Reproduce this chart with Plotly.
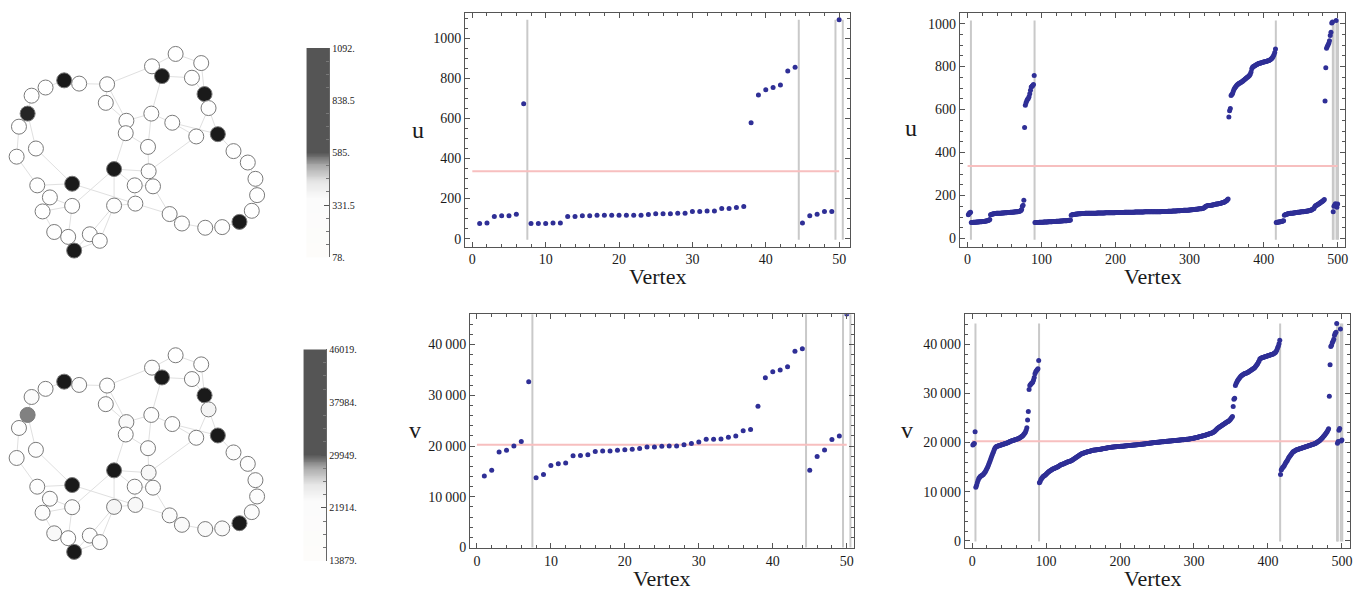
import numpy as np
import plotly.graph_objects as go

W, H = 1367, 599

# ---------------- data ----------------
vertex50 = list(range(1, 51))
u50 = [75, 78, 111, 114, 114, 122, 673, 75, 75, 75, 78, 78, 111, 111, 114, 114, 117, 117, 117, 117,
       117, 117, 117, 120, 124, 124, 124, 127, 127, 135, 135, 138, 138, 151, 151, 156, 161, 578, 717, 743,
       754, 767, 837, 855, 78, 114, 122, 135, 135, 1092]
v50 = [14100, 15240, 18840, 19160, 20000, 20900, 32670, 13760, 14400, 16140, 16530, 16660, 18070, 18130, 18260,
       18900, 19040, 19040, 19160, 19290, 19360, 19490, 19810, 19810, 19940, 20000, 20000, 20260, 20510, 20770,
       21350, 21350, 21410, 21740, 21990, 23020, 23280, 27850, 33440, 34660, 34980, 35630, 38710, 39160, 15240,
       17940, 19230, 21290, 21990, 46019]
sep50 = [7.5, 44.5, 49.5, 50.5]
mean_u = 337
mean_v = 20270

vertex500 = list(range(1, 501))
u500 = [
    110, 116, 120, 122,
    75, 75, 75, 76, 76, 76, 76, 77, 77, 77,
    77, 78, 78, 78, 78, 79, 79, 79, 80, 80,
    81, 82, 83, 84, 86, 88,
    110, 112, 113, 114, 115, 115, 116, 116, 117, 117,
    117, 118, 118, 118, 118, 119, 119, 119, 119, 120,
    120, 120, 120, 121, 121, 121, 121, 122, 122, 122,
    122, 123, 123, 123, 124, 124, 125, 125, 126, 127, 128, 130,
    135, 150, 155, 178,
    516, 620, 632, 641, 648, 652, 660, 674, 690, 705, 709, 712, 717, 759,
    74, 75, 75, 75, 75, 75, 76, 76, 76, 76,
    76, 76, 77, 77, 77, 77, 77, 77, 78, 78,
    78, 78, 78, 78, 79, 79, 79, 79, 79, 80,
    80, 80, 80, 80, 81, 81, 81, 81, 82, 82,
    82, 83, 83, 83, 84, 84, 85, 85, 86,
    108, 110, 111, 112, 112, 113, 113, 114, 114, 114,
    115, 115, 115, 115, 116, 116, 116, 116, 116, 117,
    117, 117, 117, 117, 117, 117, 118, 118, 118, 118,
    118, 118, 118, 118, 118, 119, 119, 119, 119, 119,
    119, 119, 119, 119, 119, 119, 120, 120, 120, 120,
    120, 120, 120, 120, 120, 120, 120, 120, 120, 120,
    121, 121, 121, 121, 121, 121, 121, 121, 121, 121,
    121, 121, 122, 122, 122, 122, 122, 122, 122, 122,
    122, 122, 122, 122, 122, 122, 123, 123, 123, 123,
    123, 123, 123, 123, 123, 123, 123, 123, 123, 124,
    124, 124, 124, 124, 124, 124, 124, 124, 124, 124,
    124, 125, 125, 125, 125, 125, 125, 125, 125, 125,
    125, 125, 126, 126, 126, 126, 126, 126, 126, 126,
    126, 127, 127, 127, 127, 127, 127, 128, 128, 128,
    128, 128, 128, 129, 129, 129, 129, 129, 130, 130,
    130, 130, 131, 131, 131, 131, 132, 132, 132, 133,
    133, 133, 134, 134, 134, 135, 135, 135, 136, 136,
    136, 137, 137, 138, 138, 139, 139, 140, 141, 142,
    143, 148, 150, 151, 152, 153, 153, 154, 154, 155,
    155, 156, 157, 157, 158, 159, 160, 160, 161, 162,
    163, 163, 164, 165, 166, 167, 168, 170, 172, 174,
    176, 180, 184,
    565, 595, 605, 665, 670, 675, 685, 695, 700, 705,
    710, 714, 717, 720, 722, 724, 726, 728, 730, 733,
    736, 739, 742, 745, 748, 750, 753, 756, 760, 766,
    775, 790, 797, 800, 802, 804, 806, 808, 810, 812,
    814, 815, 816, 817, 818, 819, 820, 821, 822, 823,
    824, 825, 826, 827, 828, 830, 832, 835, 838, 842,
    848, 855, 865, 882,
    75, 76, 76, 77, 77, 78, 78, 79, 80, 81, 83,
    108, 110, 112, 113, 114, 115, 116, 116, 117, 117,
    118, 118, 119, 119, 120, 120, 121, 121, 122, 122,
    122, 123, 123, 124, 124, 125, 125, 126, 126, 127,
    127, 128, 128, 129, 130, 131, 132, 134, 136, 138,
    140, 148, 152, 154, 156, 158, 160, 162, 165, 168,
    170, 172, 175, 178, 182,
    640, 795, 885, 893, 900, 908, 920, 945, 960, 1003, 1008,
    125, 150, 156, 162,
    1014,
    145, 160,
]
v500 = [
    19500, 19700, 19800, 22200,
    10900, 11300, 11800, 12300, 12700, 12900, 13100, 13200, 13300, 13400,
    13500, 13700, 13900, 14100, 14400, 14700, 15000, 15400, 15800, 16200,
    16600, 17000, 17400, 17800, 18200, 18600, 18900, 19100, 19200, 19250,
    19300, 19350, 19400, 19450, 19500, 19550, 19600, 19650, 19700, 19750,
    19800, 19850, 19900, 19950, 20000, 20100, 20200, 20250, 20300, 20350,
    20400, 20450, 20500, 20550, 20600, 20650, 20700, 20750, 20800, 20900,
    21000, 21100, 21200, 21350, 21500, 21700, 21900, 22100, 22500, 23000,
    24600, 26300,
    30800, 31600, 31800, 32000, 32100, 32300, 32700, 33200, 34000, 34400, 34600, 34800, 35000, 36700,
    11800, 12100, 12500, 12700, 12900, 13100, 13200, 13300, 13400, 13550,
    13700, 13850, 14000, 14100, 14200, 14300, 14400, 14500, 14600, 14650,
    14700, 14800, 14850, 14900, 15000, 15100, 15200, 15300, 15400, 15500,
    15550, 15600, 15650, 15700, 15800, 15850, 15900, 16000, 16050, 16100,
    16150, 16200, 16250, 16300, 16400, 16500, 16600, 16700, 16800, 16900,
    17000, 17100, 17200, 17300, 17400, 17500, 17600, 17700, 17750, 17800,
    17850, 17900, 17950, 18000, 18050, 18100, 18150, 18200, 18250, 18300,
    18350, 18400, 18420, 18440, 18460, 18480, 18500, 18520, 18540, 18560,
    18580, 18600, 18620, 18650, 18680, 18710, 18740, 18770, 18800, 18830,
    18860, 18890, 18920, 18950, 18970, 18990, 19010, 19030, 19050, 19070,
    19090, 19110, 19130, 19150, 19160, 19170, 19180, 19190, 19200, 19210,
    19220, 19235, 19250, 19265, 19280, 19295, 19310, 19325, 19340, 19355,
    19370, 19385, 19400, 19415, 19430, 19445, 19460, 19475, 19490, 19505,
    19520, 19535, 19550, 19565, 19580, 19595, 19610, 19625, 19640, 19660,
    19680, 19700, 19720, 19740, 19760, 19780, 19800, 19820, 19840, 19860,
    19880, 19900, 19920, 19940, 19960, 19980, 20000, 20015, 20030, 20045,
    20060, 20075, 20090, 20105, 20120, 20135, 20150, 20165, 20180, 20195,
    20210, 20225, 20240, 20255, 20270, 20285, 20300, 20315, 20330, 20345,
    20360, 20375, 20390, 20405, 20420, 20435, 20450, 20465, 20480, 20495,
    20510, 20525, 20540, 20555, 20570, 20585, 20600, 20615, 20630, 20650,
    20670, 20690, 20710, 20730, 20750, 20780, 20810, 20840, 20870, 20900,
    20930, 20960, 21000, 21040, 21080, 21120, 21160, 21200, 21240, 21280,
    21320, 21360, 21400, 21450, 21500, 21550, 21600, 21650, 21700, 21750,
    21800, 21850, 21900, 21950, 22000, 22100, 22200, 22300, 22450, 22600,
    22750, 22900, 23000, 23100, 23200, 23300, 23400, 23500, 23600, 23700,
    23800, 23900, 24000, 24100, 24200, 24300, 24400, 24550, 24700, 24900,
    25100, 25300,
    27300, 28800, 29000, 31600, 32000, 32300, 32600, 32800, 33000, 33200,
    33400, 33600, 33700, 33800, 33900, 34000, 34050, 34100, 34150, 34200,
    34300, 34400, 34500, 34600, 34700, 34800, 34900, 35000, 35100, 35200,
    35400, 35600, 35800, 36000, 36300, 36600, 37000, 37100, 37200, 37250,
    37300, 37350, 37400, 37450, 37500, 37550, 37600, 37650, 37700, 37750,
    37800, 37850, 37900, 37950, 38000, 38100, 38200, 38300, 38500, 38800,
    39200, 39600, 40100, 40800,
    13500, 14400, 14700, 14900, 15100, 15300, 15600, 15900, 16100, 16300,
    16600, 16900, 17100, 17300, 17500, 17700, 17900, 18100, 18200, 18300,
    18400, 18500, 18550, 18600, 18650, 18700, 18750, 18800, 18850, 18900,
    18950, 19000, 19050, 19100, 19150, 19200, 19250, 19300, 19350, 19400,
    19450, 19500, 19550, 19600, 19650, 19700, 19750, 19800, 19900, 20000,
    20100, 20200, 20300, 20400, 20550, 20700, 20850, 21000, 21200, 21400,
    21600, 21800, 22000, 22200, 22500, 22800,
    29400, 35800, 39500, 39800, 40300, 40600, 41000, 41800, 42200, 42400, 44200,
    19870, 20200, 22500, 22830,
    43100,
    20300, 20520,
]
sep500 = [4.5, 90.5, 416.5, 493.5, 494.5, 498.5, 500.5]

# graph layout (node positions) and vertex mapping
node_x = [528, 605, 457, 487, 577, 615, 193, 238, 137, 322, 95, 83, 318, 627, 455, 380, 518, 57, 378, 655,
          590, 445, 108, 50, 702, 745, 343, 447, 217, 112, 405, 460, 768, 773, 150, 217, 343, 407, 128, 757,
          510, 547, 720, 617, 668, 163, 205, 270, 300, 223]
node_y = [57, 85, 95, 125, 130, 180, 138, 148, 160, 150, 185, 240, 207, 223, 240, 262, 268, 280, 300, 303,
          310, 342, 347, 372, 355, 390, 410, 417, 455, 460, 460, 463, 440, 490, 497, 523, 522, 516, 540, 538,
          548, 577, 572, 590, 588, 603, 618, 610, 630, 660]
node_vertex = [1, 2, 3, 7, 4, 39, 40, 5, 8, 9, 6, 38, 10, 37, 11, 48, 12, 13, 14, 41, 15, 16, 17, 18, 19, 20,
               42, 49, 43, 21, 22, 23, 24, 25, 26, 27, 36, 35, 28, 29, 30, 31, 44, 32, 33, 34, 45, 46, 47, 50]
edges = [(7, 8), (7, 9), (9, 11), (11, 12), (12, 18), (18, 24), (24, 30), (12, 23), (23, 29), (29, 30),
         (30, 35), (35, 39), (35, 36), (36, 39), (39, 46), (46, 47), (36, 47), (47, 50), (50, 48), (50, 49),
         (48, 49), (48, 37), (49, 37), (37, 27), (27, 36), (27, 28), (27, 19), (27, 31), (8, 10), (10, 13),
         (10, 16), (13, 16), (16, 19), (16, 15), (19, 22), (10, 3), (3, 4), (3, 1), (1, 2), (4, 5), (2, 6),
         (5, 6), (4, 15), (15, 22), (22, 28), (15, 17), (17, 21), (17, 20), (6, 14), (14, 21), (14, 20),
         (21, 28), (20, 25), (25, 26), (26, 33), (33, 34), (34, 40), (40, 43), (43, 45), (45, 44), (44, 42),
         (42, 41), (41, 32), (32, 28), (31, 38), (31, 32), (29, 38), (38, 41), (37, 38)]

cb_u_ticks = [78, 331.5, 585, 838.5, 1092]
cb_u_text = ["78.", "331.5", "585.", "838.5", "1092."]
cb_v_ticks = [13879, 21914, 29949, 37984, 46019]
cb_v_text = ["13879.", "21914.", "29949.", "37984.", "46019."]

v_tickvals = [0, 10000, 20000, 30000, 40000]
v_ticktext = ["0", "10\u2009000", "20\u2009000", "30\u2009000", "40\u2009000"]

# ---------------- styling ----------------
FONT = "Liberation Serif"
DOT = "#2f2f96"
SEPC = "#c9c9c9"
REDC = "#f7bfbf"
FRAME = "#555555"

bar_scale = [[0, "#fdfcfa"], [0.28, "#fbfbfb"], [0.36, "#e6e6e6"], [0.44, "#a8a8a8"],
             [0.5, "#555555"], [1, "#555555"]]
node_scale = [[0, "#ffffff"], [0.2, "#fdfdfd"], [0.3, "#f3f3f3"], [0.4, "#c8c8c8"],
              [0.435, "#808080"], [0.5, "#1a1a1a"], [1, "#1a1a1a"]]


def dom_x(a, b):
    return [a / W, b / W]


def dom_y(top, bottom):
    return [1 - bottom / H, 1 - top / H]


fig = go.Figure()
layout = dict(width=W, height=H, margin=dict(l=0, r=0, t=0, b=0),
              paper_bgcolor="white", plot_bgcolor="white", showlegend=False,
              font=dict(family=FONT, color="#1a1a1a"))

annotations = []


def add_graph(idx, ytop, values, vmin, vmax):
    xa, ya = f"xaxis{idx}", f"yaxis{idx}"
    xr, yr = f"x{idx}", f"y{idx}"
    ex, ey = [], []
    for a, b in edges:
        ex += [node_x[a - 1], node_x[b - 1], None]
        ey += [node_y[a - 1], node_y[b - 1], None]
    fig.add_trace(go.Scatter(x=ex, y=ey, mode="lines", line=dict(color="#e0e0e0", width=1),
                             xaxis=xr, yaxis=yr, hoverinfo="skip"))
    cols = [values[v - 1] for v in node_vertex]
    fig.add_trace(go.Scatter(x=node_x, y=node_y, mode="markers",
                             marker=dict(size=15, color=cols, colorscale=node_scale, cmin=vmin, cmax=vmax,
                                         line=dict(color="#7a7a7a", width=1)),
                             xaxis=xr, yaxis=yr))
    layout[xa] = dict(domain=dom_x(0, 290), range=[0, 870], visible=False, fixedrange=True, anchor=yr)
    layout[ya] = dict(domain=dom_y(ytop, ytop + 240), range=[720, 0], visible=False, fixedrange=True,
                      anchor=xr)


def add_bar(idx, x0, x1, ytop, ybot, vmin, vmax, tv, tt):
    xa, ya = f"xaxis{idx}", f"yaxis{idx}"
    xr, yr = f"x{idx}", f"y{idx}"
    ys = np.linspace(vmin, vmax, 241)
    fig.add_trace(go.Heatmap(x=[0, 1], y=ys, z=[[v, v] for v in ys], colorscale=bar_scale,
                             zmin=vmin, zmax=vmax, showscale=False, xaxis=xr, yaxis=yr, hoverinfo="skip"))
    layout[xa] = dict(domain=dom_x(x0, x1), range=[-0.5, 1.5], visible=False, fixedrange=True, anchor=yr)
    layout[ya] = dict(domain=dom_y(ytop, ybot), range=[vmin, vmax], side="right", anchor=xr,
                      tickmode="array", tickvals=tv, ticktext=tt, ticks="inside", ticklen=5,
                      tickcolor="#555", showline=True, linecolor="#666", linewidth=1,
                      tickfont=dict(size=10, family=FONT, color="#222"), showgrid=False, zeroline=False,
                      minor=dict(tickmode="linear", tick0=vmin, dtick=(vmax - vmin) / 16, ticks="inside",
                                 ticklen=3, tickcolor="#777", showgrid=False),
                      fixedrange=True)


def add_scatter(idx, xs, ys, seps, mean, xdom, ydom, xrange, yrange, xdt, xminor, ytv, ytt, yminor, ybot):
    xa, ya = f"xaxis{idx}", f"yaxis{idx}"
    xr, yr = f"x{idx}", f"y{idx}"
    top = max(ys)
    lx, ly = [], []
    for s in seps:
        lx += [s, s, None]
        ly += [ybot, top, None]
    fig.add_trace(go.Scatter(x=lx, y=ly, mode="lines", line=dict(color=SEPC, width=2),
                             xaxis=xr, yaxis=yr, hoverinfo="skip"))
    fig.add_trace(go.Scatter(x=[0, max(xs)], y=[mean, mean], mode="lines", line=dict(color=REDC, width=2),
                             xaxis=xr, yaxis=yr, hoverinfo="skip"))
    fig.add_trace(go.Scatter(x=xs, y=ys, mode="markers", marker=dict(color=DOT, size=5, line=dict(width=0)),
                             xaxis=xr, yaxis=yr))
    common = dict(showline=True, linecolor=FRAME, linewidth=1, mirror="allticks", ticks="inside",
                  ticklen=5, tickcolor=FRAME, showgrid=False, zeroline=False,
                  tickfont=dict(size=14, family=FONT, color="#1a1a1a"), fixedrange=True)
    layout[xa] = dict(domain=xdom, range=xrange, anchor=yr, tickmode="linear", tick0=0, dtick=xdt,
                      minor=dict(dtick=xminor, ticks="inside", ticklen=3, tickcolor=FRAME, showgrid=False),
                      **common)
    layout[ya] = dict(domain=ydom, range=yrange, anchor=xr, tickmode="array", tickvals=ytv, ticktext=ytt,
                      minor=dict(tickmode="linear", tick0=0, dtick=yminor, ticks="inside", ticklen=3,
                                 tickcolor=FRAME, showgrid=False),
                      **common)


def label(text, px, py, size=21):
    annotations.append(dict(text=text, x=px / W, y=1 - py / H, xref="paper", yref="paper",
                            showarrow=False, font=dict(size=size, family=FONT, color="#1a1a1a"),
                            xanchor="center", yanchor="middle"))


u_tv = [0, 200, 400, 600, 800, 1000]
u_tt = [str(t) for t in u_tv]

# top row
add_graph(1, 30, u50, 78, 1092)
add_bar(2, 307, 330, 43, 257, 78, 1092, cb_u_ticks, cb_u_text)
add_scatter(3, vertex50, u50, sep50, mean_u, dom_x(466, 852), dom_y(7, 246), [-1.0, 51.5], [-40, 1127],
            10, 2, u_tv, u_tt, 50, -6)
add_scatter(4, vertex500, u500, sep500, mean_u, dom_x(962, 1348), dom_y(7, 246), [-10.4, 510], [-38, 1050],
            100, 20, u_tv, u_tt, 50, -6)
# bottom row
add_graph(5, 338, v50, 13879, 46019)
add_bar(6, 304, 327, 351, 567, 13879, 46019, cb_v_ticks, cb_v_text)
add_scatter(7, vertex50, v50, sep50, mean_v, dom_x(471, 856), dom_y(315, 554), [-0.94, 51.0], [-100, 46000],
            10, 2, v_tickvals, v_ticktext, 2000, 0)
add_scatter(8, vertex500, v500, sep500, mean_v, dom_x(967, 1353), dom_y(315, 554), [-9.8, 511], [-1440, 46100],
            100, 20, v_tickvals, v_ticktext, 2000, -100)

label("u", 419, 127, 24)
label("Vertex", 659, 277, 22)
label("u", 913, 125, 24)
label("Vertex", 1155, 277, 22)
label("v", 416, 433, 24)
label("Vertex", 663, 585, 22)
label("v", 909, 433, 24)
label("Vertex", 1155, 585, 22)

layout["annotations"] = annotations
fig.update_layout(**layout)
fig.write_html("out.html", config={"displayModeBar": False},
               post_script="document.body.style.margin='0';document.body.style.overflow='hidden';")
